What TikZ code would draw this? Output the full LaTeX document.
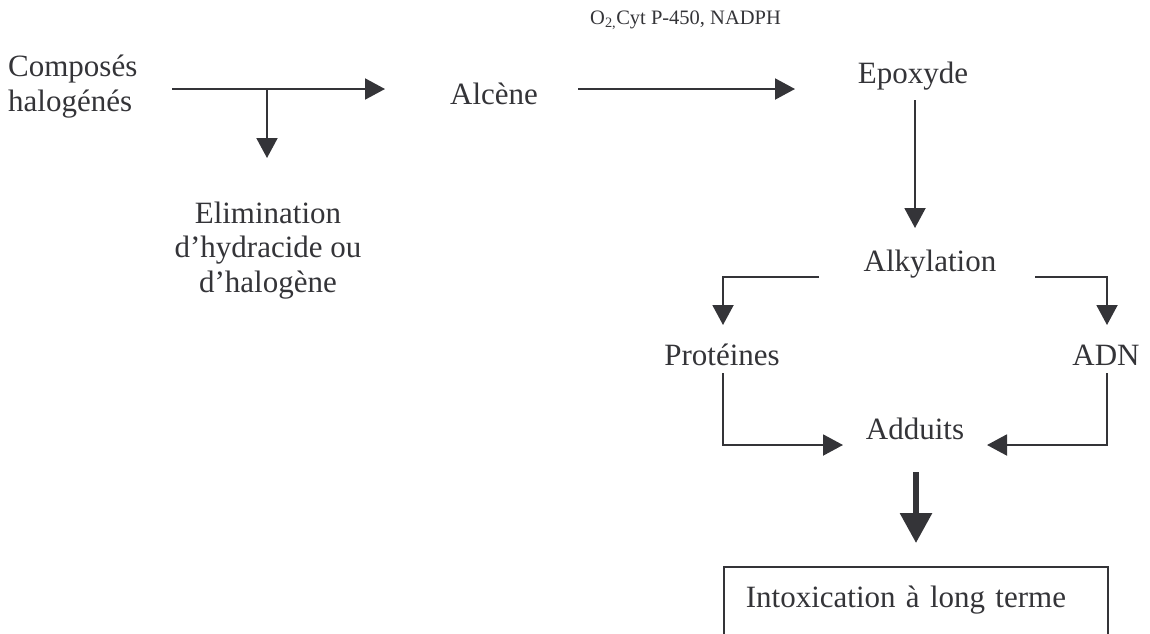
\documentclass[tikz,border=0pt]{standalone}
\usepackage{fontspec}
\setmainfont{Liberation Serif}
\usetikzlibrary{arrows.meta}
\definecolor{ink}{RGB}{52,52,56}
\begin{document}
\begin{tikzpicture}[x=1pt,y=-1pt,
  lbl/.style={inner sep=0pt, text=ink, font=\fontsize{31}{34.5}\selectfont},
  arr/.style={draw=ink, line width=2pt, -{Triangle[length=20pt,width=21pt]}, color=ink},
  bigarr/.style={draw=ink, line width=6pt, -{Triangle[length=30pt,width=31pt]}, color=ink}]
\useasboundingbox (0,0) rectangle (1150,633);

% texts (multi-line nodes are placed by the baseline of their last line)
\node[lbl, anchor=base west, align=left] (comp) at (8,111) {Composés\\halogénés};
\node[lbl, anchor=base, align=center] (elim) at (268,292) {Elimination\\d’hydracide ou\\d’halogène};
\node[lbl, anchor=base] (alc) at (494,104) {Alcène};
\node[inner sep=0pt, text=ink, anchor=base west, font=\fontsize{20.5}{24}\selectfont] (cond) at (590,24) {O\textsubscript{2,}Cyt P-450, NADPH};
\node[lbl, anchor=base] (epo) at (913,83) {Epoxyde};
\node[lbl, anchor=base] (alk) at (930,271) {Alkylation};
\node[lbl, anchor=base] (prot) at (722,365) {Protéines};
\node[lbl, anchor=base] (adn) at (1106,365) {ADN};
\node[lbl, anchor=base] (add) at (915,439) {Adduits};
\node[lbl, draw=ink, line width=1.6pt, anchor=north west, inner xsep=22pt, inner ysep=0pt,
      text width=340pt, text height=41pt, text depth=45pt, align=left] (intox) at (723,566)
      {Intoxication à long terme};

% connector end points
\coordinate (compOut) at (172,89);
\coordinate (branch) at (267,89);
\coordinate (alcIn) at (385,89);
\coordinate (elimIn) at (267,158);
\coordinate (alcOut) at (578,89);
\coordinate (epoIn) at (795,89);
\coordinate (epoOut) at (915,100);
\coordinate (alkIn) at (915,228);
\coordinate (alkL) at (819,277);
\coordinate (alkR) at (1035,277);
\coordinate (protIn) at (723,325);
\coordinate (adnIn) at (1107,325);
\coordinate (protOut) at (723,373);
\coordinate (adnOut) at (1107,373);
\coordinate (addL) at (843,445);
\coordinate (addR) at (987,445);
\coordinate (addOut) at (916,472);
\coordinate (intoxIn) at (916,543);

% connectors
\draw[arr] (compOut) -- (alcIn);
\draw[arr] (branch) -- (elimIn);
\draw[arr] (alcOut) -- (epoIn);
\draw[arr] (epoOut) -- (alkIn);
\draw[arr] (alkL) -| (protIn);
\draw[arr] (alkR) -| (adnIn);
\draw[arr] (protOut) |- (addL);
\draw[arr] (adnOut) |- (addR);
\draw[bigarr] (addOut) -- (intoxIn);
\end{tikzpicture}
\end{document}
